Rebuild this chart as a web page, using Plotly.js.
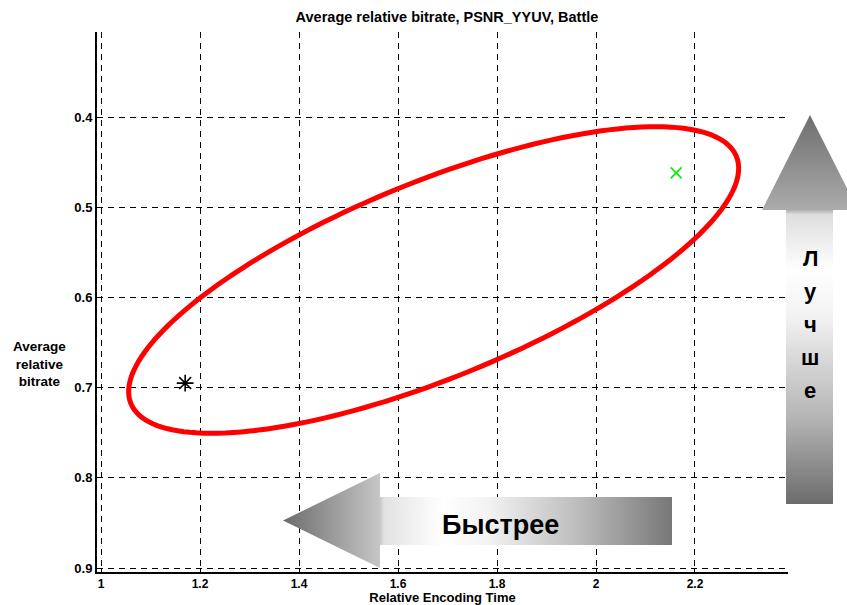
<!DOCTYPE html>
<html>
<head>
<meta charset="utf-8">
<script src="https://cdn.plot.ly/plotly-3.0.1.min.js"></script>
<style>html,body{margin:0;padding:0;background:#fff}#chart{width:847px;height:605px}</style>
</head>
<body>
<div id="chart"></div>
<script>
// ---------- data ----------
const chartTitle = 'Average relative bitrate, PSNR_YYUV, Battle';
const xAxisTitle = 'Relative Encoding Time';
const yAxisTitle = 'Average<br>relative<br>bitrate';
const xTickVals = [1, 1.2, 1.4, 1.6, 1.8, 2, 2.2];
const xTickText = ['1', '1.2', '1.4', '1.6', '1.8', '2', '2.2'];
const yTickVals = [0.4, 0.5, 0.6, 0.7, 0.8, 0.9];
const yTickText = ['0.4', '0.5', '0.6', '0.7', '0.8', '0.9'];
const encoderATime = [1.17];
const encoderABitrate = [0.695];
const encoderBTime = [2.162];
const encoderBBitrate = [0.462];
const fasterLabel = 'Быстрее';
const betterLetters = ['Л', 'у', 'ч', 'ш', 'е'];

// ---------- layout geometry (pixels of the 847x605 page) ----------
const W = 847, H = 605;
const box = {left: 97, right: 788, top: 32, bottom: 572};
const xRange = [0.9919, 2.3879];
const yRange = [0.90443, 0.30576];
const pxPerX = (box.right - box.left) / (xRange[1] - xRange[0]);
const pxPerY = (box.bottom - box.top) / (yRange[0] - yRange[1]);

// highlight ellipse: centre in data units, semi-axes in px, tilt in degrees
const ell = {cx: 1.672, cy: 0.5807, a: 327, b: 98, tilt: 22.2};
function ellipsePath() {
  const phi = ell.tilt * Math.PI / 180;
  let d = '';
  const n = 180;
  for (let i = 0; i <= n; i++) {
    const t = 2 * Math.PI * i / n;
    const dx = ell.a * Math.cos(t) * Math.cos(phi) - ell.b * Math.sin(t) * Math.sin(phi);
    const dy = ell.a * Math.cos(t) * Math.sin(phi) + ell.b * Math.sin(t) * Math.cos(phi);
    const x = ell.cx + dx / pxPerX;
    const y = ell.cy - dy / pxPerY;
    d += (i === 0 ? 'M' : 'L') + x.toFixed(5) + ',' + y.toFixed(5);
  }
  return d + 'Z';
}

// decorative arrows (page pixels)
const leftArrowX = [283, 380, 380, 672, 672, 380, 380, 283];
const leftArrowY = [520.5, 473, 497, 497, 545, 545, 568, 520.5];
const upArrowX = [810, 858, 833, 833, 786, 786, 762, 810];
const upArrowY = [115, 210, 210, 504, 504, 210, 210, 115];

const boldFont = (size) => ({family: 'Liberation Sans, Arial, sans-serif', size: size, color: '#000', weight: 'bold'});

const traces = [
  {
    x: leftArrowX, y: leftArrowY, xaxis: 'x2', yaxis: 'y2',
    mode: 'lines', fill: 'toself', line: {width: 0, color: 'rgba(0,0,0,0)'},
    fillgradient: {type: 'horizontal', start: 283, stop: 672,
      colorscale: [[0, '#6c6c6c'], [0.249, '#c6c6c6'], [0.26, '#e2e2e2'], [0.41, '#ffffff'],
                   [0.52, '#f4f4f4'], [0.76, '#bcbcbc'], [1, '#777777']]},
    hoverinfo: 'skip', showlegend: false
  },
  {
    x: upArrowX, y: upArrowY, xaxis: 'x2', yaxis: 'y2',
    mode: 'lines', fill: 'toself', line: {width: 0, color: 'rgba(0,0,0,0)'},
    fillgradient: {type: 'vertical', start: 115, stop: 504,
      colorscale: [[0, '#6e6e6e'], [0.243, '#ababab'], [0.256, '#dedede'], [0.4, '#ffffff'],
                   [0.52, '#f2f2f2'], [0.78, '#b4b4b4'], [1, '#6c6c6c']]},
    hoverinfo: 'skip', showlegend: false
  },
  {
    x: encoderATime, y: encoderABitrate, name: 'Encoder A', mode: 'markers',
    marker: {symbol: 'asterisk-open', size: 14, color: '#000', line: {width: 1.6, color: '#000'}},
    showlegend: false
  },
  {
    x: encoderBTime, y: encoderBBitrate, name: 'Encoder B', mode: 'markers',
    marker: {symbol: 'x-thin-open', size: 11, color: '#00ee00', line: {width: 1.6, color: '#00ee00'}},
    showlegend: false
  }
];

const annotations = [
  {xref: 'x2', yref: 'y2', x: 39, y: 364, text: yAxisTitle, showarrow: false,
   font: boldFont(13.5), align: 'center', xanchor: 'center', yanchor: 'middle'},
  {xref: 'x2', yref: 'y2', x: 500, y: 524.5, text: fasterLabel, showarrow: false,
   font: boldFont(27), xanchor: 'center', yanchor: 'middle'}
];
betterLetters.forEach((ch, i) => {
  annotations.push({xref: 'x2', yref: 'y2', x: 810, y: 258 + i * 33, text: ch, showarrow: false,
    font: boldFont(22), xanchor: 'center', yanchor: 'middle'});
});

const layout = {
  width: W, height: H,
  margin: {l: 0, r: 0, t: 0, b: 0},
  paper_bgcolor: '#fff', plot_bgcolor: 'rgba(0,0,0,0)',
  showlegend: false,
  title: {text: chartTitle, font: boldFont(14.5), x: 447 / W, xref: 'container', xanchor: 'center',
          y: 1 - 17 / H, yref: 'container', yanchor: 'middle'},
  xaxis: {
    domain: [box.left / W, box.right / W], range: xRange, anchor: 'y',
    tickvals: xTickVals, ticktext: xTickText, tickfont: boldFont(12),
    ticks: 'inside', ticklen: 4, tickcolor: '#000',
    showline: true, linecolor: '#000', linewidth: 2,
    showgrid: true, gridcolor: '#000', gridwidth: 1, griddash: '6px,5px',
    zeroline: false,
    title: {text: xAxisTitle, font: boldFont(13), standoff: 8}
  },
  yaxis: {
    domain: [1 - box.bottom / H, 1 - box.top / H], range: yRange, anchor: 'x',
    tickvals: yTickVals, ticktext: yTickText, tickfont: boldFont(13),
    ticks: 'inside', ticklen: 4, tickcolor: '#000',
    showline: true, linecolor: '#000', linewidth: 2,
    showgrid: true, gridcolor: '#000', gridwidth: 1, griddash: '6px,5px',
    zeroline: false
  },
  xaxis2: {domain: [0, 1], range: [0, W], anchor: 'y2', visible: false, fixedrange: true},
  yaxis2: {domain: [0, 1], range: [H, 0], anchor: 'x2', visible: false, fixedrange: true},
  shapes: [
    {type: 'path', xref: 'x', yref: 'y', path: ellipsePath(), line: {color: '#ff0000', width: 5}, layer: 'above'}
  ],
  annotations: annotations
};

Plotly.newPlot('chart', traces, layout, {displayModeBar: false, staticPlot: true});
</script>
</body>
</html>
